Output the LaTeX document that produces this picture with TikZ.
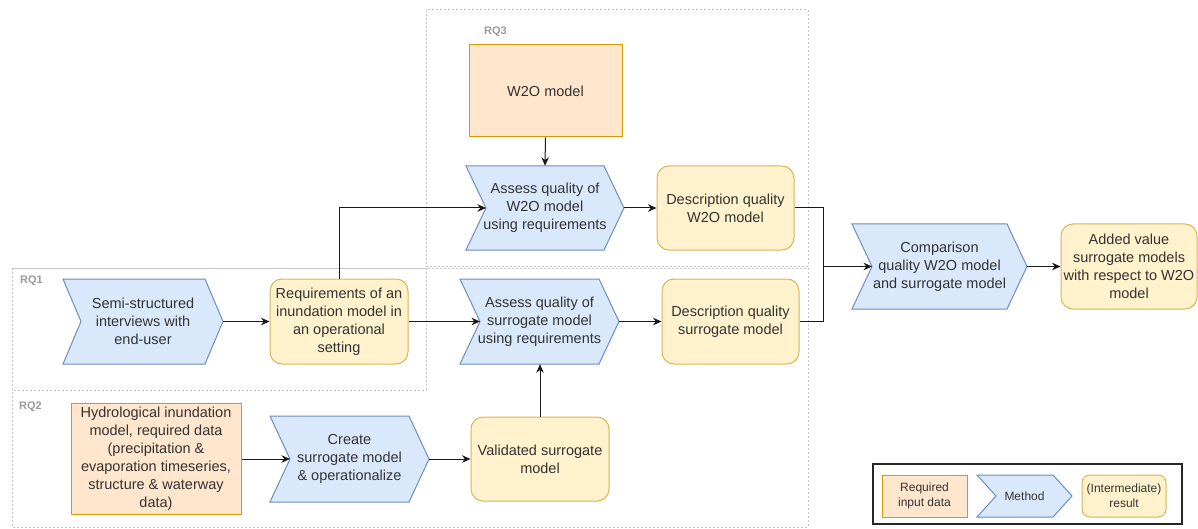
\documentclass[tikz,border=0pt]{standalone}
\usepackage{fontspec}
\setmainfont{Liberation Sans}
\usetikzlibrary{arrows.meta,calc}
\definecolor{bfill}{HTML}{DAE8FC}\definecolor{bdraw}{HTML}{6C8EBF}
\definecolor{ofill}{HTML}{FFE6CC}\definecolor{odraw}{HTML}{D79B00}
\definecolor{yfill}{HTML}{FFF2CC}\definecolor{ydraw}{HTML}{D6B656}
\definecolor{txtc}{HTML}{333333}\definecolor{grpc}{HTML}{C4C4C4}\definecolor{rqc}{HTML}{9A9A9A}
\tikzset{
  txt/.style={text=txtc, font=\fontsize{14.5}{18}\selectfont, align=center, inner sep=0pt},
  smalltxt/.style={text=txtc, font=\fontsize{12}{15}\selectfont, align=center, inner sep=0pt},
  inbox/.style={draw=odraw, fill=ofill, line width=1pt},
  resbox/.style={draw=ydraw, fill=yfill, rounded corners=12pt, line width=1pt},
  chevfill/.style={draw=bdraw, fill=bfill, line width=1pt, line join=miter},
  arr/.style={-{Stealth[length=8.5pt,width=7.5pt]}, line width=1pt, black!90},
  link/.style={line width=1pt, black!90},
  grp/.style={draw=grpc, line width=1pt, dash pattern=on 2pt off 2pt},
  rqlab/.style={text=rqc, font=\fontsize{11}{13}\selectfont\bfseries, inner sep=0pt, anchor=west},
}
% name, cx, cy, w, h, notch depth, text style, text
\newcommand{\chevnode}[8]{%
  \path[chevfill] ({#2-#4/2},{#3-#5/2}) -- ({#2+#4/2-#6},{#3-#5/2}) -- ({#2+#4/2},{#3})
    -- ({#2+#4/2-#6},{#3+#5/2}) -- ({#2-#4/2},{#3+#5/2}) -- ({#2-#4/2+#6},{#3}) -- cycle;
  \node[#7, minimum width=#4, minimum height=#5] (#1) at (#2,#3) {#8};
  \coordinate (#1-in) at ({#2-#4/2+#6},#3);
}
\begin{document}
\begin{tikzpicture}[x=1pt,y=-1pt]
\useasboundingbox (0,0) rectangle (1198,529);
% groups
\draw[grp] (426,10) rectangle (808,266);
\draw[grp] (12,268) rectangle (808,527);
\draw[grp] (12,268) rectangle (426,390);
\node[rqlab] (rq3) at (484,32) {RQ3};
\node[rqlab] (rq1) at (20,281) {RQ1};
\node[rqlab] (rq2) at (19,407) {RQ2};

% input data
\node[inbox, txt, minimum width=153, minimum height=92] (w2o) at (545.5,91) {W2O model};
\node[inbox, txt, minimum width=170, minimum height=111] (hydro) at (156,458.5)
  {Hydrological inundation\\model, required data\\(precipitation \&\\evaporation timeseries,\\structure \& waterway\\data)};

% methods
\chevnode{semi}{143}{321.5}{160}{85}{18}{txt}{Semi-structured\\interviews with\\end-user}
\chevnode{assw}{545}{208}{158}{84}{20}{txt}{Assess quality of\\W2O model\\using requirements}
\chevnode{asss}{539.5}{321.5}{159}{85}{20}{txt}{Assess quality of\\surrogate model\\using requirements}
\chevnode{create}{349.5}{459}{159}{86}{20}{txt}{Create\\surrogate model\\\& operationalize}
\chevnode{cmp}{939.5}{266.5}{175}{85}{20}{txt}{Comparison\\quality W2O model\\and surrogate model}

% results
\node[resbox, txt, minimum width=138, minimum height=85] (req) at (339,321.5)
  {Requirements of an\\inundation model in\\an operational\\setting};
\node[resbox, txt, minimum width=137, minimum height=84] (descw) at (725.5,208)
  {Description quality\\W2O model};
\node[resbox, txt, minimum width=137, minimum height=85] (descs) at (730.5,321.5)
  {Description quality\\surrogate model};
\node[resbox, txt, minimum width=138, minimum height=84] (valid) at (540,459)
  {Validated surrogate\\model};
\node[resbox, txt, minimum width=136, minimum height=85] (added) at (1129,266.5)
  {Added value\\surrogate models\\with respect to W2O\\model};

% connectors
\draw[arr] (w2o.south) -- (assw.north);
\draw[arr] (req.north) |- (assw-in);
\draw[arr] (semi.east) -- (req.west);
\draw[arr] (req.east) -- (asss-in);
\draw[arr] (assw.east) -- (descw.west);
\draw[arr] (asss.east) -- (descs.west);
\coordinate (jn) at (823,266.5);
\draw[link] (descw.east) -| (jn);
\draw[link] (descs.east) -| (jn);
\draw[arr] (jn) -- (cmp-in);
\draw[arr] (cmp.east) -- (added.west);
\draw[arr] (hydro.east |- create-in) -- (create-in);
\draw[arr] (create.east) -- (valid.west);
\draw[arr] (valid.north) -- (valid.north |- asss.south);

% legend
\node[draw=black!85, line width=1.5pt, minimum width=309, minimum height=60, inner sep=0pt] (legend) at (1027.5,494) {};
\node[inbox, smalltxt, minimum width=85, minimum height=42] (lgin) at (924.5,496) {Required\\input data};
\chevnode{lgmeth}{1024.5}{496}{95}{42}{19}{smalltxt}{Method}
\node[resbox, smalltxt, rounded corners=8pt, minimum width=84, minimum height=42] (lgres) at (1124,496) {(Intermediate)\\result};
\end{tikzpicture}
\end{document}
